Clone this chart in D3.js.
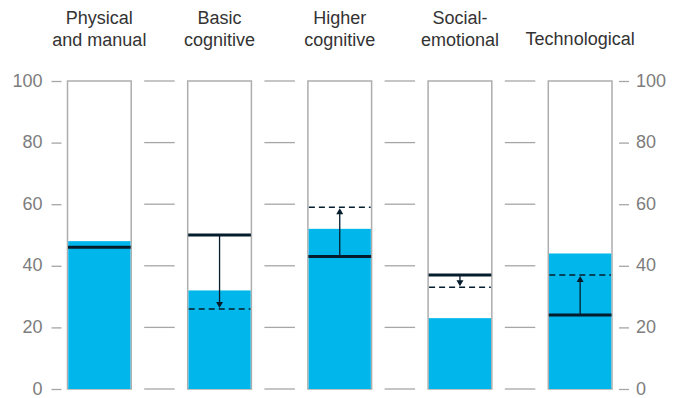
<!DOCTYPE html>
<html lang="en">
<head>
    <script src="https://d3js.org/d3.v7.min.js"></script>
    <style>
        body { margin: 0; background: #fff; }
        svg text { font-family: "Liberation Sans", Arial, sans-serif; }
        .cat { fill: #333; font-size: 18px; text-anchor: middle; }
        .tick-label { fill: #7d7d7d; font-size: 18px; }
    </style>
</head>
<body>
<script>
    // chart values
    let categories = [["Physical", "and manual"], ["Basic", "cognitive"], ["Higher", "cognitive"], ["Social-", "emotional"], ["Technological"]];
    let filled = [48, 32, 52, 23, 44];     // cyan bar
    let current = [46, 50, 43, 37, 24];    // solid dark line
    let future = [null, 26, 59, 33, 37];   // dashed line, arrow points here
    let yTicks = [0, 20, 40, 60, 80, 100];

    var width = 677, height = 398;
    var svg = d3.select("body").append("svg")
        .attr("width", width)
        .attr("height", height);

    var x = d3.scaleBand()
        .domain(d3.range(categories.length))
        .range([67.5, 612])
        .paddingInner(0.47)
        .paddingOuter(0);

    var y = d3.scaleLinear().domain([0, 100]).range([389, 81]);

    // grid dashes between bars
    var gaps = [];
    for (var i = 0; i < categories.length - 1; i++) gaps.push(i);
    yTicks.forEach(function(t) {
        svg.selectAll(null).data(gaps).enter().append("line")
            .attr("x1", function(d) { return x(d) + x.bandwidth() + 13; })
            .attr("x2", function(d) { return x(d + 1) - 13; })
            .attr("y1", y(t)).attr("y2", y(t))
            .style("stroke", "#a6a6a6").style("stroke-width", 1.3);
    });

    // left + right axes
    var left = d3.axisLeft(y).tickValues(yTicks).tickSize(10).tickPadding(9);
    var right = d3.axisRight(y).tickValues(yTicks).tickSize(10).tickPadding(7);
    var gl = svg.append("g").attr("transform", "translate(" + (x(0) - 6) + ",0)").call(left);
    var gr = svg.append("g").attr("transform", "translate(" + (x(4) + x.bandwidth() + 7) + ",0)").call(right);
    [gl, gr].forEach(function(g) {
        g.select(".domain").remove();
        g.selectAll("line").style("stroke", "#a6a6a6").style("stroke-width", 1.3);
        g.selectAll("text").attr("class", "tick-label").attr("font-family", null).attr("font-size", null)
            .attr("dy", "0.28em");
    });

    var bars = svg.selectAll("g.bar")
        .data(categories)
        .enter().append("g").attr("class", "bar");

    // outline box
    bars.append("rect")
        .attr("x", function(d, i) { return x(i); })
        .attr("y", y(100))
        .attr("width", x.bandwidth())
        .attr("height", y(0) - y(100))
        .style("fill", "#fff")
        .style("stroke", "#adadad")
        .style("stroke-width", 1.5);

    bars.append("rect")
        .attr("x", function(d, i) { return x(i) + 0.75; })
        .attr("y", function(d, i) { return y(filled[i]); })
        .attr("width", x.bandwidth() - 1.5)
        .attr("height", function(d, i) { return y(0) - y(filled[i]); })
        .style("fill", "#00b6eb");

    // dashed future line
    bars.filter(function(d, i) { return future[i] != null; }).append("line")
        .attr("x1", function(d) { return x(categories.indexOf(d)) + 1; })
        .attr("x2", function(d) { return x(categories.indexOf(d)) + x.bandwidth() - 1; })
        .attr("y1", function(d) { return y(future[categories.indexOf(d)]); })
        .attr("y2", function(d) { return y(future[categories.indexOf(d)]); })
        .style("stroke", "#051c2c").style("stroke-width", 1.5).style("stroke-dasharray", "6,4");

    // arrows
    bars.filter(function(d, i) { return future[i] != null; }).each(function(d) {
        var i = categories.indexOf(d);
        var cx = x(i) + x.bandwidth() / 2;
        var y0 = y(current[i]), y1 = y(future[i]);
        var dir = y1 > y0 ? 1 : -1;
        var g = d3.select(this);
        g.append("line")
            .attr("x1", cx).attr("x2", cx)
            .attr("y1", y0).attr("y2", y1 - dir * 4)
            .style("stroke", "#051c2c").style("stroke-width", 1.3);
        g.append("path")
            .attr("d", "M" + (cx - 3.5) + "," + (y1 - dir * 7) + "L" + (cx + 3.5) + "," + (y1 - dir * 7) + "L" + cx + "," + (y1 - dir * 1) + "Z")
            .style("fill", "#051c2c");
    });

    // solid current line
    bars.append("line")
        .attr("x1", function(d, i) { return x(i) + 0.5; })
        .attr("x2", function(d, i) { return x(i) + x.bandwidth() - 0.5; })
        .attr("y1", function(d, i) { return y(current[i]); })
        .attr("y2", function(d, i) { return y(current[i]); })
        .style("stroke", "#051c2c").style("stroke-width", 3);

    // category labels
    bars.each(function(d, i) {
        var cx = x(i) + x.bandwidth() / 2;
        var t = d3.select(this).append("text").attr("class", "cat");
        var start = d.length === 1 ? 45 : 24;
        d.forEach(function(line, k) {
            t.append("tspan").attr("x", cx).attr("y", start + k * 21.5).text(line);
        });
    });
</script>
</body>
</html>
